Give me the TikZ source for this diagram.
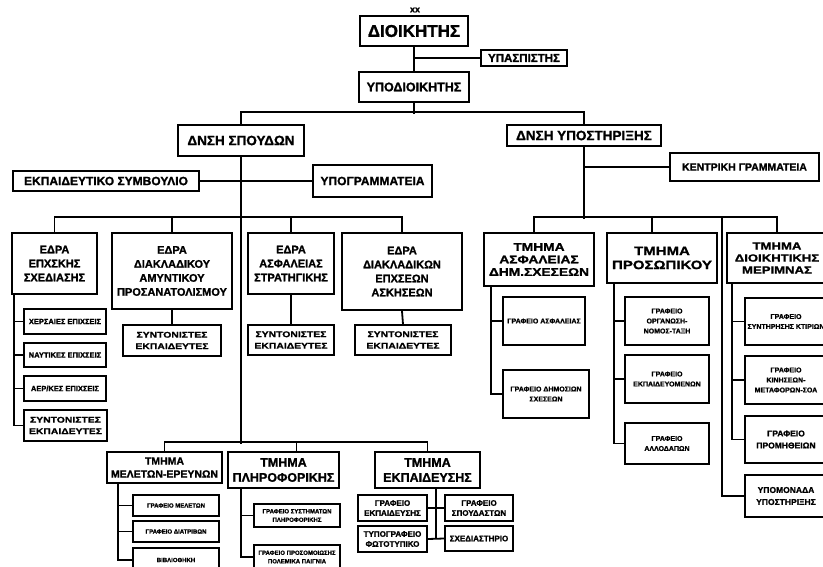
\documentclass[tikz,border=0pt]{standalone}
\usepackage{fontspec}
\setmainfont{Liberation Sans}[BoldFeatures={FakeBold=1.3}]
\newfontfamily\wfam{Liberation Sans}[FakeStretch=1.25,BoldFeatures={FakeBold=1.3}]
\newcommand\fsz[2]{\fontsize{#1}{#2}\selectfont\bfseries}
\newcommand\fwz[2]{\wfam\fontsize{#1}{#2}\selectfont\bfseries}
\tikzset{
  obx/.style={draw=black,line width=2.2pt,fill=white,inner sep=1pt,align=center,text=black},
  sbx/.style={obx,line width=1.8pt},
  ln/.style={draw=black,line width=1.8pt},
  synt/.style={sbx,font=\fwz{8.3}{11.5}},
  gr/.style={sbx,font=\fsz{7}{10}},
}
\newcommand\obox[7]{%
  \node[#6,minimum width={#4-#2},minimum height={#5-#3}] (#1) at ({(#2+#4)/2},{(#3+#5)/2}) {#7};}
\begin{document}
\begin{tikzpicture}[x=1pt,y=-1pt]
\useasboundingbox (0,0) rectangle (823,566);
\clip (0,0) rectangle (823,566);
\fill[white] (0,0) rectangle (823,566);
% top
\node[font=\fsz{9}{10}] (xx) at (415,10) {xx};
\obox{dioik}{360}{16}{468}{46}{obx,font=\fsz{17}{20}}{ΔΙΟΙΚΗΤΗΣ}
\obox{ypasp}{481}{50}{567}{66}{obx,font=\fsz{11.5}{13}}{ΥΠΑΣΠΙΣΤΗΣ}
\obox{ypod}{359}{72}{469}{102}{obx,font=\fsz{12.5}{14}}{ΥΠΟΔΙΟΙΚΗΤΗΣ}
\obox{dsp}{178}{125}{304}{156}{obx,font=\fsz{13.5}{16}}{ΔΝΣΗ ΣΠΟΥΔΩΝ}
\obox{dyp}{507}{125}{661}{146}{obx,font=\fsz{13.5}{16}}{ΔΝΣΗ ΥΠΟΣΤΗΡΙΞΗΣ}
\obox{ekp}{13}{171}{199}{191}{obx,font=\fsz{12}{14}}{ΕΚΠΑΙΔΕΥΤΙΚΟ ΣΥΜΒΟΥΛΙΟ}
\obox{ypogr}{313}{165}{432}{197}{obx,font=\fsz{12}{14}}{ΥΠΟΓΡΑΜΜΑΤΕΙΑ}
\obox{kentr}{670}{153}{819}{181}{obx,font=\fsz{10.5}{12}}{ΚΕΝΤΡΙΚΗ ΓΡΑΜΜΑΤΕΙΑ}
% edres
\obox{e1}{12}{233}{97}{294}{obx,font=\fsz{11}{14}}{ΕΔΡΑ\\ΕΠΧΣΚΗΣ\\ΣΧΕΔΙΑΣΗΣ}
\obox{e2}{112}{233}{232}{309}{obx,font=\fsz{11}{14}}{ΕΔΡΑ\\ΔΙΑΚΛΑΔΙΚΟΥ\\ΑΜΥΝΤΙΚΟΥ\\ΠΡΟΣΑΝΑΤΟΛΙΣΜΟΥ}
\obox{e3}{248}{233}{334}{294}{obx,font=\fsz{11}{14}}{ΕΔΡΑ\\ΑΣΦΑΛΕΙΑΣ\\ΣΤΡΑΤΗΓΙΚΗΣ}
\obox{e4}{342}{233}{462}{310}{obx,font=\fsz{11}{14}}{ΕΔΡΑ\\ΔΙΑΚΛΑΔΙΚΩΝ\\ΕΠΧΣΕΩΝ\\ΑΣΚΗΣΕΩΝ}
\obox{s2}{123}{325}{221}{356}{synt}{ΣΥΝΤΟΝΙΣΤΕΣ\\ΕΚΠΑΙΔΕΥΤΕΣ}
\obox{s3}{248}{325}{334}{355}{synt}{ΣΥΝΤΟΝΙΣΤΕΣ\\ΕΚΠΑΙΔΕΥΤΕΣ}
\obox{s4}{355}{325}{451}{355}{synt}{ΣΥΝΤΟΝΙΣΤΕΣ\\ΕΚΠΑΙΔΕΥΤΕΣ}
\obox{c1}{24}{309}{106}{334}{sbx,font=\fsz{7.5}{9}}{ΧΕΡΣΑΙΕΣ ΕΠΙΧΣΕΙΣ}
\obox{c2}{24}{343}{106}{367}{sbx,font=\fsz{7.5}{9}}{ΝΑΥΤΙΚΕΣ ΕΠΙΧΣΕΙΣ}
\obox{c3}{24}{376}{106}{401}{sbx,font=\fsz{7.5}{9}}{ΑΕΡ/ΚΕΣ ΕΠΙΧΣΕΙΣ}
\obox{c4}{24}{410}{107}{441}{synt}{ΣΥΝΤΟΝΙΣΤΕΣ\\ΕΚΠΑΙΔΕΥΤΕΣ}
% right side
\obox{t1}{484}{233}{594}{286}{obx,font=\fwz{11}{12.5}}{ΤΜΗΜΑ\\ΑΣΦΑΛΕΙΑΣ\\ΔΗΜ.ΣΧΕΣΕΩΝ}
\obox{t2}{607}{233}{717}{283}{obx,font=\fwz{12}{14}}{ΤΜΗΜΑ\\ΠΡΟΣΩΠΙΚΟΥ}
\obox{t3}{727}{233}{827}{283}{obx,font=\fwz{10.5}{12}}{ΤΜΗΜΑ\\ΔΙΟΙΚΗΤΙΚΗΣ\\ΜΕΡΙΜΝΑΣ}
\obox{ga1}{503}{297}{585}{345}{gr}{ΓΡΑΦΕΙΟ ΑΣΦΑΛΕΙΑΣ}
\obox{ga2}{503}{370}{589}{418}{gr}{ΓΡΑΦΕΙΟ ΔΗΜΟΣΙΩΝ\\ΣΧΕΣΕΩΝ}
\obox{gp1}{625}{297}{709}{345}{gr}{ΓΡΑΦΕΙΟ\\ΟΡΓΑΝΩΣΗ-\\ΝΟΜΟΣ-ΤΑΞΗ}
\obox{gp2}{625}{355}{709}{403}{gr}{ΓΡΑΦΕΙΟ\\ΕΚΠΑΙΔΕΥΟΜΕΝΩΝ}
\obox{gp3}{625}{423}{709}{464}{gr}{ΓΡΑΦΕΙΟ\\ΑΛΛΟΔΑΠΩΝ}
\obox{gd1}{745}{298}{827}{345}{gr}{ΓΡΑΦΕΙΟ\\ΣΥΝΤΗΡΗΣΗΣ ΚΤΙΡΙΩΝ}
\obox{gd2}{745}{356}{827}{404}{gr}{ΓΡΑΦΕΙΟ\\ΚΙΝΗΣΕΩΝ-\\ΜΕΤΑΦΟΡΩΝ-ΣΟΑ}
\obox{gd3}{745}{416}{827}{463}{sbx,font=\fsz{8.5}{12}}{ΓΡΑΦΕΙΟ\\ΠΡΟΜΗΘΕΙΩΝ}
\obox{ypom}{745}{475}{827}{517}{sbx,font=\fsz{8.5}{12}}{ΥΠΟΜΟΝΑΔΑ\\ΥΠΟΣΤΗΡΙΞΗΣ}
% bottom
\obox{tm}{107}{452}{222}{483}{obx,font=\fsz{10.5}{13}}{ΤΜΗΜΑ\\ΜΕΛΕΤΩΝ-ΕΡΕΥΝΩΝ}
\obox{tp}{228}{452}{339}{488}{obx,font=\fsz{12.5}{15}}{ΤΜΗΜΑ\\ΠΛΗΡΟΦΟΡΙΚΗΣ}
\obox{te}{375}{452}{480}{488}{obx,font=\fsz{12.5}{15}}{ΤΜΗΜΑ\\ΕΚΠΑΙΔΕΥΣΗΣ}
\obox{gm1}{133}{495}{219}{516}{sbx,font=\fsz{6}{8}}{ΓΡΑΦΕΙΟ ΜΕΛΕΤΩΝ}
\obox{gm2}{133}{521}{219}{542}{sbx,font=\fsz{6}{8}}{ΓΡΑΦΕΙΟ ΔΙΑΤΡΙΒΩΝ}
\obox{gm3}{133}{548}{219}{572}{sbx,font=\fsz{6}{8}}{ΒΙΒΛΙΟΘΗΚΗ}
\obox{gf1}{254}{504}{340}{527}{sbx,font=\fsz{6}{8.5}}{ΓΡΑΦΕΙΟ ΣΥΣΤΗΜΑΤΩΝ\\ΠΛΗΡΟΦΟΡΙΚΗΣ}
\obox{gf2}{254}{545}{340}{569}{sbx,font=\fsz{6}{8.5}}{ΓΡΑΦΕΙΟ ΠΡΟΣΟΜΟΙΩΣΗΣ\\ΠΟΛΕΜΙΚΑ ΠΑΙΓΝΙΑ}
\obox{ge1}{358}{495}{427}{521}{sbx,font=\fsz{8}{10}}{ΓΡΑΦΕΙΟ\\ΕΚΠΑΙΔΕΥΣΗΣ}
\obox{ge2}{445}{495}{513}{521}{sbx,font=\fsz{8}{10}}{ΓΡΑΦΕΙΟ\\ΣΠΟΥΔΑΣΤΩΝ}
\obox{ge3}{358}{526}{427}{552}{sbx,font=\fsz{8}{10}}{ΤΥΠΟΓΡΑΦΕΙΟ\\ΦΩΤΟΤΥΠΙΚΟ}
\obox{ge4}{445}{526}{513}{551}{sbx,font=\fsz{8}{10}}{ΣΧΕΔΙΑΣΤΗΡΙΟ}
% connectors
\draw[ln] (dioik.south) -- (ypod.north);
\draw[ln] (ypasp.west) -- (ypasp.west -| dioik.south);
\draw[ln] (ypod.south) -- ++(0,11);
\draw[ln] (dsp.north) -- ++(0,-12) -| (dyp.north);
\draw[ln] (dsp.south) -- ++(0,287);
\draw[ln] (ekp.east) -- (ypogr.west);
\draw[ln] (dyp.south) -- ++(0,72);
\draw[ln] (kentr.west) -- (kentr.west -| dyp.south);
\draw[ln] (e1.north) -- ++(0,-15) -| (e4.north);
\draw[ln] (e2.north) -- ++(0,-15);
\draw[ln] (e3.north) -- ++(0,-15);
\draw[ln] (e2.south) -- (s2.north);
\draw[ln] (e3.south) -- (s3.north);
\draw[ln] (e4.south) -- (s4.north);
\coordinate (v1) at ([xshift=3]e1.south west);
\draw[ln] (v1) |- (c4.west);
\foreach \c in {c1,c2,c3} \draw[ln] (\c.west) -- (\c.west -| v1);
\draw[ln] ([xshift=-5]t1.north) -- ++(0,-15) -| (t3.north);
\draw[ln] ([xshift=-10]t2.north) -- ++(0,-15);
\coordinate (jR) at ([shift={(-55,-15)}]t3.north);
\draw[ln] (jR) |- (ypom.west);
\coordinate (v2) at ([xshift=8]t1.south west);
\draw[ln] (v2) |- (ga2.west);
\draw[ln] (ga1.west) -- (ga1.west -| v2);
\coordinate (v3) at ([xshift=8]t2.south west);
\draw[ln] (v3) |- (gp3.west);
\foreach \c in {gp1,gp2} \draw[ln] (\c.west) -- (\c.west -| v3);
\coordinate (v4) at ([xshift=6]t3.south west);
\draw[ln] (v4) |- (gd3.west);
\foreach \c in {gd1,gd2} \draw[ln] (\c.west) -- (\c.west -| v4);
\draw[ln] (tm.north) -- ++(0,-9) -| (te.north);
\draw[ln] ([xshift=13]tp.north) -- ++(0,-9);
\coordinate (v5) at ([xshift=12]tm.south west);
\draw[ln] (v5) |- (gm3.west);
\foreach \c in {gm1,gm2} \draw[ln] (\c.west) -- (\c.west -| v5);
\coordinate (v6) at ([xshift=14]tp.south west);
\draw[ln] (v6) |- (gf2.west);
\draw[ln] (gf1.west) -- (gf1.west -| v6);
\coordinate (v7) at ([xshift=8.5]te.south);
\draw[ln] (v7) -- (v7 |- ge3.east);
\draw[ln] (ge1.east) -- (ge2.west);
\draw[ln] (ge3.east) -- (ge4.west);
\end{tikzpicture}
\end{document}
